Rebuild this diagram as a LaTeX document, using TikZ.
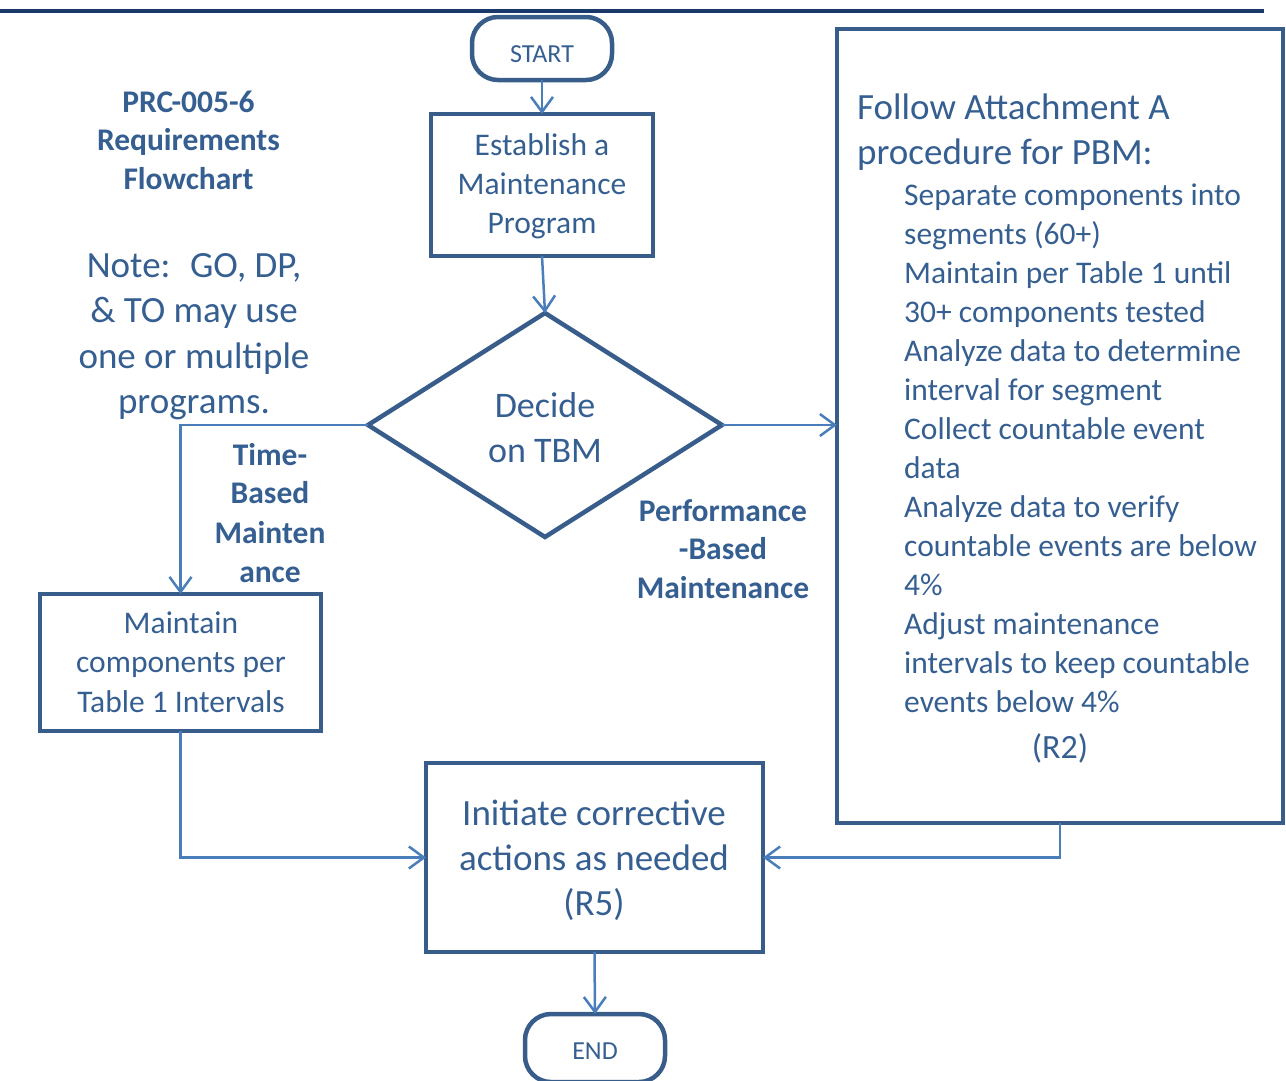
\documentclass[tikz,border=0pt]{standalone}
\usepackage{fontspec}
\setmainfont{Carlito}
\usetikzlibrary{arrows.meta,shapes.geometric}
\definecolor{textc}{RGB}{54,95,145}
\definecolor{boxc}{RGB}{56,93,138}
\definecolor{linec}{RGB}{74,126,187}
\definecolor{navyc}{RGB}{26,56,106}
\tikzset{
  txt/.style={text=textc, inner sep=0pt, font=\fontsize{31.5}{39}\selectfont},
  bigtxt/.style={text=textc, inner sep=0pt, font=\fontsize{37}{45}\selectfont},
  boldtxt/.style={text=textc, inner sep=0pt, font=\fontsize{31.5}{39}\selectfont\bfseries},
  smalltxt/.style={text=textc, inner sep=0pt, font=\fontsize{26}{32}\selectfont},
  box/.style={draw=boxc, line width=4.5pt, rectangle, inner sep=0pt, outer sep=0pt},
  term/.style={draw=boxc, line width=4.5pt, rectangle, rounded corners=26pt, inner sep=0pt, outer sep=0pt},
  decision/.style={draw=boxc, line width=4.5pt, diamond, inner sep=0pt, outer sep=0pt},
  conn/.style={draw=linec, line width=2.5pt, -{Straight Barb[length=15pt,width=22pt]}}
}
\begin{document}
\begin{tikzpicture}[x=1pt,y=-1pt]
\useasboundingbox (0,0) rectangle (1286,1080);
\clip (0,0) rectangle (1286,1080);
% top rule
\draw[navyc, line width=4pt] (0,11) -- (1264,11);
% shapes
\node[term, minimum width=140pt, minimum height=63pt] (start) at (542,48.5) {};
\node[box, minimum width=222pt, minimum height=142pt] (est) at (542,185) {};
\node[decision, minimum width=354pt, minimum height=224pt] (dia) at (545,425) {};
\node[box, minimum width=281pt, minimum height=137pt] (lbox) at (180.5,662.5) {};
\node[box, minimum width=446pt, minimum height=794pt] (rbox) at (1060,426) {};
\node[box, minimum width=337pt, minimum height=189pt] (bbox) at (594.5,857.5) {};
\node[term, minimum width=140pt, minimum height=68pt] (end) at (595,1048) {};
% connectors
\draw[conn] (start) -- (est);
\draw[conn] (est.south) -- (dia.north);
\draw[conn] (dia.west) -| (lbox.north);
\draw[conn] (dia.east) -- (rbox.west |- dia.east);
\draw[conn] (lbox.south) |- (bbox.west);
\draw[conn] (rbox.south) |- (bbox.east);
\draw[conn] (bbox.south) -- (end.north);
% texts
\node[smalltxt, anchor=base] (tstart) at (542,62) {START};
\node[smalltxt, anchor=base] (tend) at (595,1059) {END};
\node[txt, anchor=base] (e1) at (542,155) {Establish a};
\node[txt, anchor=base] (e2) at (542,194) {Maintenance};
\node[txt, anchor=base] (e3) at (542,233) {Program};
\node[bigtxt, font=\fontsize{36}{44}\selectfont, anchor=base] (d1) at (545,417) {Decide};
\node[bigtxt, font=\fontsize{36}{44}\selectfont, anchor=base] (d2) at (545,462) {on TBM};
\node[txt, anchor=base] (m1) at (181,633) {Maintain};
\node[txt, anchor=base] (m2) at (181,672) {components per};
\node[txt, anchor=base] (m3) at (181,712) {Table 1 Intervals};
\node[bigtxt, anchor=base] (b1) at (594,825) {Initiate corrective};
\node[bigtxt, anchor=base] (b2) at (594,870) {actions as needed};
\node[bigtxt, anchor=base] (b3) at (594,915) {(R5)};
\node[boldtxt, anchor=base] (h1) at (188.5,112) {PRC-005-6};
\node[boldtxt, anchor=base] (h2) at (188.5,150) {Requirements};
\node[boldtxt, anchor=base] (h3) at (188.5,189) {Flowchart};
\node[bigtxt, anchor=base] (n1) at (194,277) {Note:~ GO, DP,};
\node[bigtxt, anchor=base] (n2) at (194,322) {\& TO may use};
\node[bigtxt, anchor=base] (n3) at (194,368) {one or multiple};
\node[bigtxt, anchor=base] (n4) at (194,413) {programs.};
\node[boldtxt, anchor=base] (t1) at (270,465) {Time-};
\node[boldtxt, anchor=base] (t2) at (270,503) {Based};
\node[boldtxt, anchor=base] (t3) at (270,543) {Mainten};
\node[boldtxt, anchor=base] (t4) at (270,582) {ance};
\node[boldtxt, anchor=base] (p1) at (723,521) {Performance};
\node[boldtxt, anchor=base] (p2) at (723,559) {-Based};
\node[boldtxt, anchor=base] (p3) at (723,598) {Maintenance};
\node[bigtxt, anchor=base west] (f1) at (857,119) {Follow Attachment A};
\node[bigtxt, anchor=base west] (f2) at (857,164) {procedure for PBM:};
\foreach \y/\t [count=\i] in {205/Separate components into, 244/segments (60+), 283/Maintain per Table 1 until, 322/30+ components tested, 361/Analyze data to determine, 400/interval for segment, 439/Collect countable event, 478/data, 517/Analyze data to verify, 556/countable events are below, 595/4\%, 634/Adjust maintenance, 673/intervals to keep countable, 712/events below 4\%}
  \node[txt, anchor=base west] (item\i) at (904,\y) {\t};
\node[txt, font=\fontsize{34}{40}\selectfont, anchor=base] (r2) at (1060,758) {(R2)};
\end{tikzpicture}
\end{document}
